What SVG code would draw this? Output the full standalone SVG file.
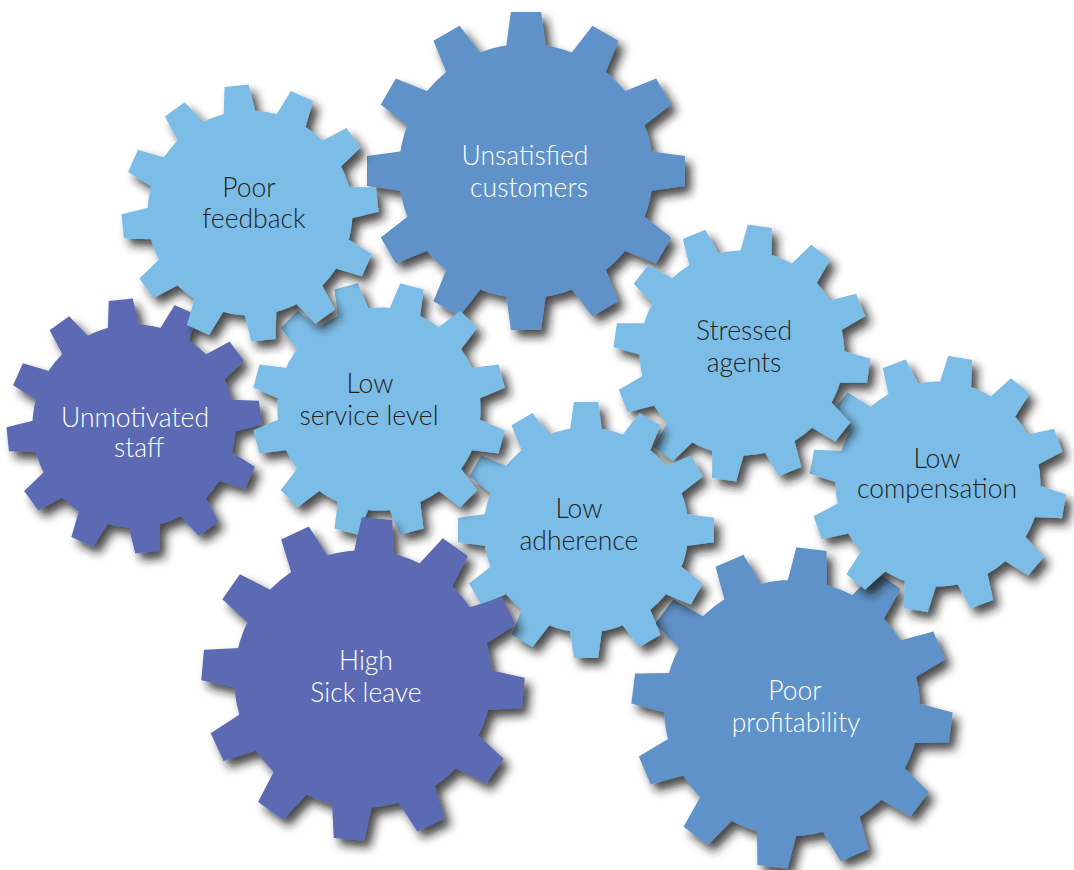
<svg xmlns="http://www.w3.org/2000/svg" width="1074" height="870" viewBox="0 0 1074 870">
  <style>
    .lt { fill: #7bbde7; }
    .md { fill: #5f92c8; }
    .pu { fill: #5c6bb3; }
    text { font-family: Lato, "Liberation Sans", sans-serif; font-size: 26.5px; font-weight: 300; text-anchor: middle; }
    .dk { fill: #231f20; }
    .wh { fill: #ffffff; }
  </style>
  <defs>
    <filter id="shadow" x="-20%" y="-20%" width="150%" height="150%">
      <feDropShadow dx="6" dy="7" stdDeviation="5" flood-color="#1a1a1a" flood-opacity="0.8"/>
    </filter>
    <!-- one tooth pointing up, gear outer radius 100 -->
    <polygon id="tooth" points="-12.5,-78 -9.5,-100 9.5,-100 12.5,-78"/>
    <!-- 12-tooth gear of unit radius 100 -->
    <g id="gear">
      <circle r="80"/>
      <use href="#tooth"/>
      <use href="#tooth" transform="rotate(30)"/>
      <use href="#tooth" transform="rotate(60)"/>
      <use href="#tooth" transform="rotate(90)"/>
      <use href="#tooth" transform="rotate(120)"/>
      <use href="#tooth" transform="rotate(150)"/>
      <use href="#tooth" transform="rotate(180)"/>
      <use href="#tooth" transform="rotate(210)"/>
      <use href="#tooth" transform="rotate(240)"/>
      <use href="#tooth" transform="rotate(270)"/>
      <use href="#tooth" transform="rotate(300)"/>
      <use href="#tooth" transform="rotate(330)"/>
    </g>
  </defs>

  <rect width="1074" height="870" fill="#ffffff"/>

  <g id="unsatisfied-customers">
    <g filter="url(#shadow)"><use href="#gear" class="md" transform="translate(526,171) scale(1.59)"/></g>
    <text class="wh" x="525" y="165">Unsatisfied</text>
    <text class="wh" x="529" y="197">customers</text>
  </g>

  <g id="unmotivated-staff">
    <g filter="url(#shadow)"><use href="#gear" class="pu" transform="translate(134,426) scale(1.27) rotate(-6)"/></g>
    <text class="wh" x="135" y="427">Unmotivated</text>
    <text class="wh" x="139" y="457">staff</text>
  </g>

  <g id="poor-profitability">
    <g filter="url(#shadow)"><use href="#gear" class="md" transform="translate(792,708) scale(1.6) rotate(7)"/></g>
    <text class="wh" x="795" y="700">Poor</text>
    <text class="wh" x="796" y="732">profitability</text>
  </g>

  <g id="low-compensation">
    <g filter="url(#shadow)"><use href="#gear" class="lt" transform="translate(938,484) scale(1.28) rotate(10)"/></g>
    <text class="dk" x="937" y="468">Low</text>
    <text class="dk" x="937" y="498">compensation</text>
  </g>

  <g id="stressed-agents">
    <g filter="url(#shadow)"><use href="#gear" class="lt" transform="translate(742,353) scale(1.28) rotate(8)"/></g>
    <text class="dk" x="744" y="340">Stressed</text>
    <text class="dk" x="744" y="372">agents</text>
  </g>

  <g id="low-adherence">
    <g filter="url(#shadow)"><use href="#gear" class="lt" transform="translate(586,530) scale(1.28)"/></g>
    <text class="dk" x="579" y="518">Low</text>
    <text class="dk" x="579" y="550">adherence</text>
  </g>

  <g id="low-service-level">
    <g filter="url(#shadow)"><use href="#gear" class="lt" transform="translate(379,409) scale(1.27) rotate(15)"/></g>
    <text class="dk" x="370" y="393">Low</text>
    <text class="dk" x="369" y="425">service level</text>
  </g>

  <g id="poor-feedback">
    <g filter="url(#shadow)"><use href="#gear" class="lt" transform="translate(250,213) scale(1.28) rotate(-6)"/></g>
    <text class="dk" x="249" y="197">Poor</text>
    <text class="dk" x="254" y="228">feedback</text>
  </g>

  <g id="high-sick-leave">
    <g filter="url(#shadow)"><use href="#gear" class="pu" transform="translate(363,679) scale(1.61) rotate(5)"/></g>
    <text class="wh" x="366" y="670">High</text>
    <text class="wh" x="366" y="702">Sick leave</text>
  </g>

  <g id="connectors"/>
</svg>
